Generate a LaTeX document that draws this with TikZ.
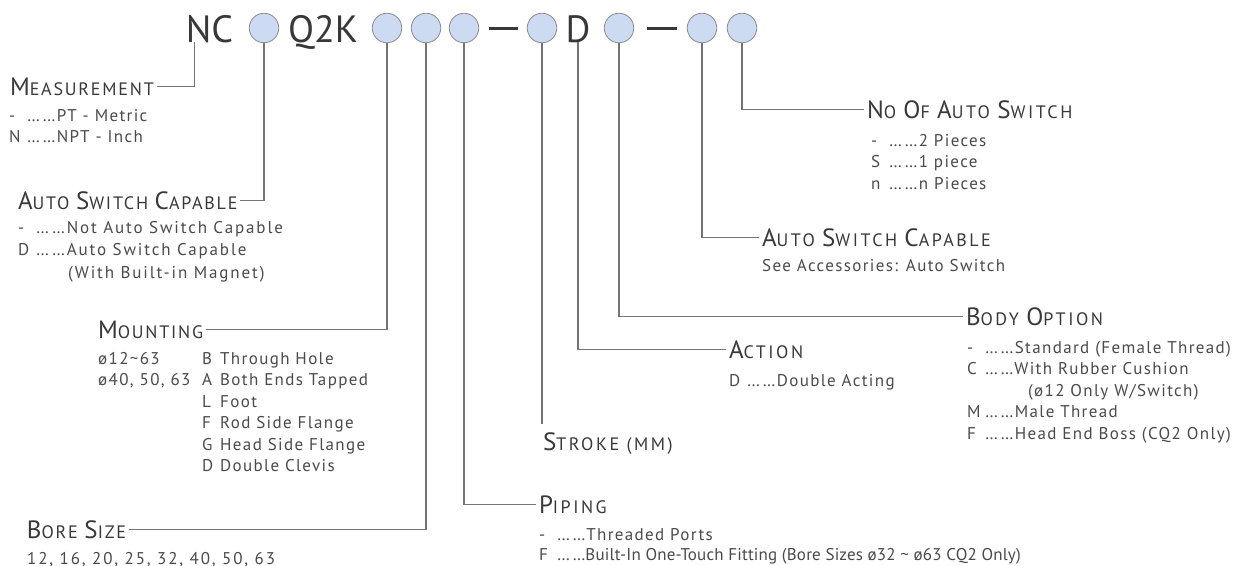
\documentclass[tikz,border=0pt]{standalone}
\usepackage{fontspec}
\usepackage{xcolor}
\usepackage{tikz}
\usetikzlibrary{positioning}

\newfontfamily\bodyfont{PT Sans}[LetterSpace=8]
\newfontfamily\widefont{PT Sans}[LetterSpace=11]
\newfontfamily\tightfont{PT Sans}[LetterSpace=1]
\newfontfamily\headfont{PT Sans}[LetterSpace=14]
\newfontfamily\headfontl{PT Sans}[LetterSpace=10]
\newfontfamily\codefont{PT Sans}

\definecolor{inkgray}{HTML}{383838}
\definecolor{optgray}{HTML}{4A4A4A}
\definecolor{linegray}{HTML}{747474}
\definecolor{dotblue}{HTML}{CCDBF1}
\definecolor{rimgray}{HTML}{8C8C8C}

% heading in small caps: big initial, smaller rest
\newcommand\hc[2]{{\fontsize{25}{25}\selectfont #1}{\fontsize{18}{18}\selectfont #2}}
% one option line: code letter, dots, text
\newcommand\opt[2]{\makebox[18pt][l]{#1}……#2}

\begin{document}
\begin{tikzpicture}[x=1pt, y=-1pt,
        dot/.style={circle, draw=rimgray, fill=dotblue, line width=0.8pt,
                    minimum size=29.5pt, inner sep=0pt},
        code/.style={font=\codefont\fontsize{38}{38}\selectfont, text=inkgray,
                     inner sep=0pt, anchor=base, text height=27pt, text depth=0pt},
        head/.style={font=\headfont\fontsize{18}{18}\selectfont, text=inkgray,
                     inner sep=0pt, outer xsep=3pt, anchor=base west,
                     text height=17.5pt, text depth=0pt},
        headl/.style={head, font=\headfontl\fontsize{18}{18}\selectfont},
        items/.style={font=\bodyfont\fontsize{17}{21.5}\selectfont, text=optgray,
                      inner sep=0pt, anchor=base west, align=left},
        conn/.style={draw=linegray, line width=1.1pt},
        bar/.style={draw=inkgray, line width=3pt}
    ]
        \useasboundingbox (0,0) rectangle (1236,565);

        % model code row
        \node[code] (nc) at (209.5,42) {NC};
        \node[dot] (c1) at (264,28) {};
        \node[code] (q2k) at (323,42) {Q2K};
        \node[dot] (c2) at (387,28) {};
        \node[dot] (c3) at (426,28) {};
        \node[dot] (c4) at (464,28) {};
        \node[dot] (c5) at (542,28) {};
        \node[code] (dd) at (578,42) {D};
        \node[dot] (c6) at (619,28) {};
        \node[dot] (c7) at (702,28) {};
        \node[dot] (c8) at (742,28) {};
        \draw[bar] ([xshift=10pt]c4.east) -- ([xshift=-9pt]c5.west);
        \draw[bar] ([xshift=13pt]c6.east) -- ([xshift=-10pt]c7.west);

        % left side (option lists are placed by their last baseline)
        \node[headl] (meas) at (7,95) {\hc{M}{EASUREMENT}};
        \node[items] (measopt) at (9,142.5) {\opt{-}{PT - Metric}\\\opt{N}{NPT - Inch}};
        \node[headl] (autol) at (15,209) {\hc{A}{UTO} \hc{S}{WITCH} \hc{C}{APABLE}};
        \node[items, font=\widefont\fontsize{17}{21.5}\selectfont] (autolopt) at (18,278)
            {\opt{-}{Not Auto Switch Capable}\\[1pt]
            \opt{D}{Auto Switch Capable}\\[1pt]\hspace*{50pt}(With Built-in Magnet)};
        \node[headl] (mount) at (95,338) {\hc{M}{OUNTING}};
        \node[items] (mountopt) at (98,471.5) {%
            \makebox[104pt][l]{ø12\textasciitilde 63}\makebox[18pt][l]{B}Through Hole\\
            \makebox[104pt][l]{ø40, 50, 63}\makebox[18pt][l]{A}Both Ends Tapped\\
            \hspace*{104pt}\makebox[18pt][l]{L}Foot\\
            \hspace*{104pt}\makebox[18pt][l]{F}Rod Side Flange\\
            \hspace*{104pt}\makebox[18pt][l]{G}Head Side Flange\\
            \hspace*{104pt}\makebox[18pt][l]{D}Double Clevis};
        \node[headl] (bore) at (24,538) {\hc{B}{ORE} \hc{S}{IZE}};
        \node[items, font=\widefont\fontsize{17}{21.5}\selectfont] (boreopt) at (27,564)
            {12, 16, 20, 25, 32, 40, 50, 63};

        % middle
        \node[head] (piping) at (536,513) {\hc{P}{IPING}};
        \node[items] (pipingopt) at (539,560.5) {\opt{-}{Threaded Ports}\\[-1pt]
            \opt{F}{\tightfont Built-In One-Touch Fitting (Bore Sizes ø32 \textasciitilde\ ø63 CQ2 Only)}};
        \node[head, outer ysep=9pt] (stroke) at (540,450) {\hc{S}{TROKE} (MM)};
        \node[head] (action) at (726,358) {\hc{A}{CTION}};
        \node[items] (actionopt) at (729,386) {\opt{D}{Double Acting}};

        % right side
        \node[head] (noauto) at (864,118) {\hc{N}{O} \hc{O}{F} \hc{A}{UTO} \hc{S}{WITCH}};
        \node[items] (noautoopt) at (871,189) {\opt{-}{2 Pieces}\\\opt{S}{1 piece}\\\opt{n}{n Pieces}};
        \node[head] (autor) at (759,246) {\hc{A}{UTO} \hc{S}{WITCH} \hc{C}{APABLE}};
        \node[items] (autoropt) at (762,271) {See Accessories: Auto Switch};
        \node[head] (body) at (963,325) {\hc{B}{ODY} \hc{O}{PTION}};
        \node[items] (bodyopt) at (967,439) {\opt{-}{Standard (Female Thread)}\\
            \opt{C}{With Rubber Cushion}\\\hspace*{61pt}(ø12 Only W/Switch)\\
            \opt{M}{Male Thread}\\\opt{F}{Head End Boss (CQ2 Only)}};

        % leaders
        \draw[conn] ([xshift=-15pt]nc.south) |- (meas.east);
        \draw[conn] (c1.south) |- (autol.east);
        \draw[conn] (c2.south) |- (mount.east);
        \draw[conn] (c3.south) |- (bore.east);
        \draw[conn] (c4.south) |- (piping.west);
        \draw[conn] (c5.south) -- (c5.south |- stroke.north);
        \draw[conn] (dd.south) |- (action.west);
        \draw[conn] (c6.south) |- (body.west);
        \draw[conn] (c7.south) |- (autor.west);
        \draw[conn] (c8.south) |- (noauto.west);
    \end{tikzpicture}
\end{document}
